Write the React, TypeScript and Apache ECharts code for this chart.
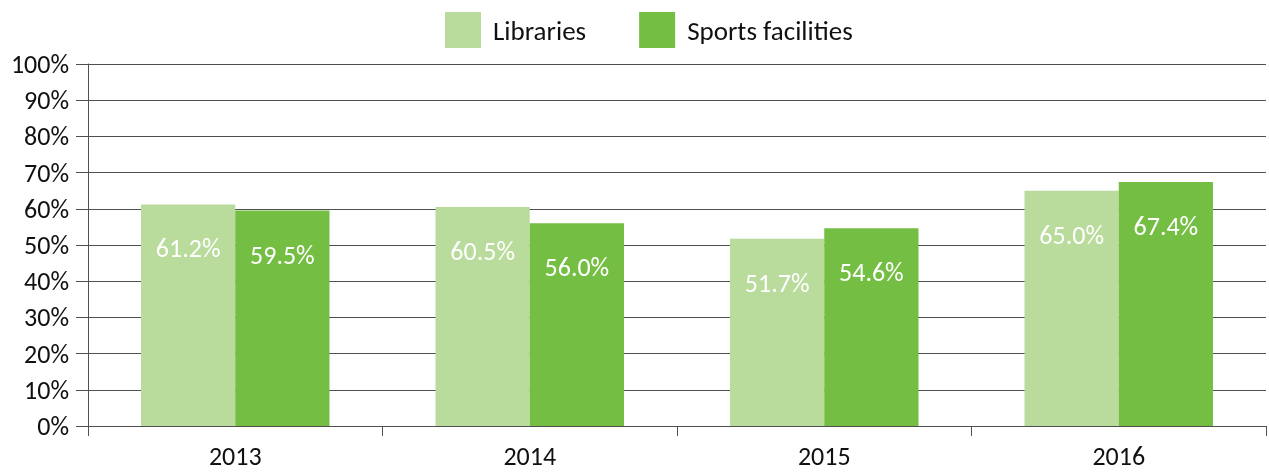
import React, { useEffect, useRef } from "react";
import * as echarts from "echarts";

const categories = ["2013", "2014", "2015", "2016"];
const libraries = [61.2, 60.5, 51.7, 65.0];
const sportsFacilities = [59.5, 56.0, 54.6, 67.4];
const seriesNames = ["Libraries", "Sports facilities"];

const FONT = "Carlito, Lato, 'Open Sans', sans-serif";
const LIGHT = "#B9DB9C";
const DARK = "#75BE44";
const LINE = "#505050";

export default function App() {
  const ref = useRef<HTMLDivElement>(null);
  useEffect(() => {
    if (!ref.current) return;
    const chart = echarts.init(ref.current, undefined, { renderer: "svg" });
    const label = {
      show: true,
      position: "insideTop",
      distance: 31,
      color: "#ffffff",
      fontSize: 26,
      fontFamily: FONT,
      formatter: (p: any) => p.value.toFixed(1) + "%",
    };
    chart.setOption({
      animation: false,
      legend: {
        top: 7,
        left: 440,
        itemWidth: 36,
        itemHeight: 36,
        itemGap: 53,
        icon: "rect",
        textStyle: { fontSize: 27, fontFamily: FONT, color: "#111", padding: [0, 0, 0, 7] },
        data: seriesNames,
      },
      grid: { left: 88, right: 3, top: 64, bottom: 46 },
      xAxis: {
        type: "category",
        data: categories,
        axisLine: { show: true, lineStyle: { color: LINE, width: 1 } },
        axisTick: { show: true, length: 10, alignWithLabel: false, lineStyle: { color: LINE } },
        axisLabel: { fontSize: 26, fontFamily: FONT, color: "#111", margin: 17 },
      },
      yAxis: {
        type: "value",
        min: 0,
        max: 100,
        interval: 10,
        axisLine: { show: true, lineStyle: { color: LINE, width: 1 } },
        axisTick: { show: true, length: 12, lineStyle: { color: LINE } },
        axisLabel: { fontSize: 26, fontFamily: FONT, color: "#111", margin: 19, formatter: "{value}%" },
        splitLine: { show: true, lineStyle: { color: LINE, width: 1 } },
      },
      series: [
        {
          name: seriesNames[0],
          type: "bar",
          data: libraries,
          itemStyle: { color: LIGHT },
          barGap: "0%",
          barCategoryGap: "36%",
          label,
        },
        {
          name: seriesNames[1],
          type: "bar",
          data: sportsFacilities,
          itemStyle: { color: DARK },
          barGap: "0%",
          barCategoryGap: "36%",
          label,
        },
      ],
    });
    return () => chart.dispose();
  }, []);
  return (
    <div
      ref={ref}
      style={{ position: "fixed", top: 0, left: 0, width: 1269, height: 472 }}
    />
  );
}
